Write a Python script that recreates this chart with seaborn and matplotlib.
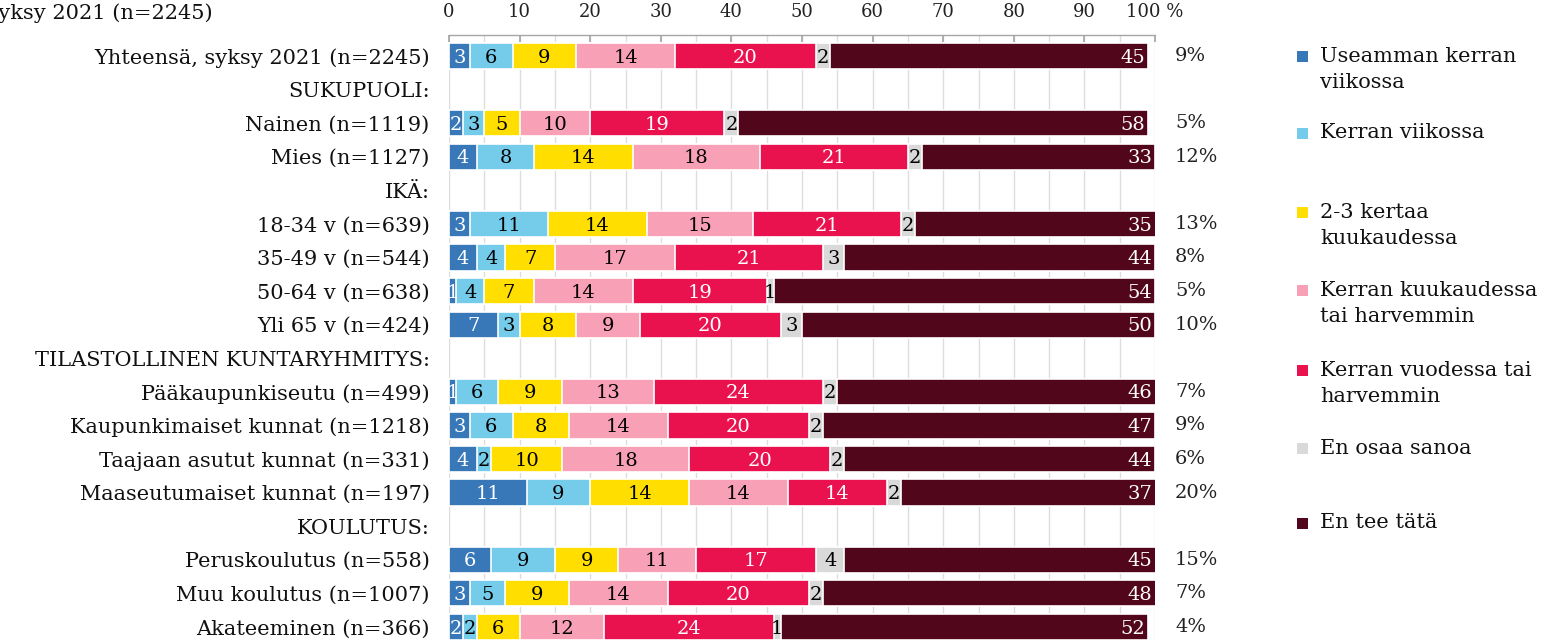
import matplotlib
matplotlib.use("Agg")
import matplotlib.pyplot as plt
from matplotlib.patches import Rectangle
from matplotlib.transforms import blended_transform_factory
import numpy as np
import pandas as pd
import seaborn as sns

# Row labels (group headers have no bars)
rows = [
    "Yhteensä, syksy 2021 (n=2245)", "SUKUPUOLI:", "Nainen (n=1119)", "Mies (n=1127)",
    "IKÄ:", "18-34 v (n=639)", "35-49 v (n=544)", "50-64 v (n=638)", "Yli 65 v (n=424)",
    "TILASTOLLINEN KUNTARYHMITYS:", "Pääkaupunkiseutu (n=499)", "Kaupunkimaiset kunnat (n=1218)",
    "Taajaan asutut kunnat (n=331)", "Maaseutumaiset kunnat (n=197)",
    "KOULUTUS:", "Peruskoulutus (n=558)", "Muu koulutus (n=1007)", "Akateeminen (n=366)",
]
bar_rows = [r for r in rows if not r.endswith(":")]

series_names = [
    "Useamman kerran\nviikossa",
    "Kerran viikossa",
    "2-3 kertaa\nkuukaudessa",
    "Kerran kuukaudessa\ntai harvemmin",
    "Kerran vuodessa tai\nharvemmin",
    "En osaa sanoa",
    "En tee tätä",
]
useamman_viikossa = [3, 2, 4, 3, 4, 1, 7, 1, 3, 4, 11, 6, 3, 2]
kerran_viikossa   = [6, 3, 8, 11, 4, 4, 3, 6, 6, 2, 9, 9, 5, 2]
kertaa_2_3_kk     = [9, 5, 14, 14, 7, 7, 8, 9, 8, 10, 14, 9, 9, 6]
kerran_kk         = [14, 10, 18, 15, 17, 14, 9, 13, 14, 18, 14, 11, 14, 12]
kerran_vuodessa   = [20, 19, 21, 21, 21, 19, 20, 24, 20, 20, 14, 17, 20, 24]
en_osaa_sanoa     = [2, 2, 2, 2, 3, 1, 3, 2, 2, 2, 2, 4, 2, 1]
en_tee_tata       = [45, 58, 33, 35, 44, 54, 50, 46, 47, 44, 37, 45, 48, 52]
weekly_share      = [9, 5, 12, 13, 8, 5, 10, 7, 9, 6, 20, 15, 7, 4]

series_values = [useamman_viikossa, kerran_viikossa, kertaa_2_3_kk, kerran_kk,
                 kerran_vuodessa, en_osaa_sanoa, en_tee_tata]
colors = ["#3878B8", "#74CBEA", "#FFDE00", "#F7A0B6", "#EA124E", "#D9D9D9", "#52061C"]
text_colors = ["white", "black", "black", "black", "white", "black", "white"]

sns.set_theme(style="white")
plt.rcParams["font.family"] = ["DejaVu Serif"]

fig = plt.figure(figsize=(15.58, 6.4), dpi=100)
ax = fig.add_axes([449 / 1558, 0.0, 706 / 1558, 1 - 35 / 640])

vals = np.array(series_values, dtype=float)
cum = np.cumsum(vals, axis=0)

# Stack by drawing cumulative totals from the widest down
for k in range(len(series_values) - 1, -1, -1):
    df = pd.DataFrame({"row": bar_rows, "value": cum[k]})
    sns.barplot(data=df, x="value", y="row", order=rows, color=colors[k],
                width=0.78, edgecolor="white", linewidth=1.2, saturation=1,
                errorbar=None, ax=ax, zorder=3)

ax.set_xlim(0, 100)
ax.set_ylim(len(rows) - 1 + 0.39, -0.625)
ax.set_xlabel("")
ax.set_ylabel("")

# Segment labels
ypos = {r: i for i, r in enumerate(rows)}
trans = blended_transform_factory(ax.transAxes, ax.transData)
for j, r in enumerate(bar_rows):
    y = ypos[r]
    for k in range(len(series_values)):
        v = vals[k, j]
        start = cum[k, j] - v
        if k == len(series_values) - 1:
            ax.text(min(cum[k, j], 100) - 0.4, y + 0.05, f"{int(v)}", ha="right",
                    va="center", color=text_colors[k], fontsize=14, zorder=5)
        else:
            ax.text(start + v / 2, y + 0.05, f"{int(v)}", ha="center", va="center",
                    color=text_colors[k], fontsize=14, zorder=5)
    ax.text((1175 - 449) / 706, y, f"{weekly_share[j]}%", transform=trans,
            ha="left", va="center", fontsize=14, color="#222222")

# Axis styling: scale on top, light vertical grid
ax.xaxis.tick_top()
ax.set_xticks(np.arange(0, 101, 10))
ax.set_xticklabels([str(t) for t in range(0, 100, 10)] + ["100 %"])
ax.set_xticks(np.arange(0, 101, 5), minor=True)
ax.tick_params(axis="x", which="major", direction="in", length=5, color="#A6A6A6",
               labelsize=13, pad=10, labelcolor="#222222", top=True, bottom=False)
ax.tick_params(axis="x", which="minor", length=0, top=False, bottom=False)
ax.grid(axis="x", which="both", color="#DDDDDD", linewidth=1, zorder=0)
ax.set_axisbelow(True)
ax.tick_params(axis="y", length=0, labelsize=15, pad=14, labelcolor="#111111")
for side in ["left", "right", "bottom"]:
    ax.spines[side].set_visible(False)
ax.spines["top"].set_color("#A6A6A6")
ax.spines["top"].set_linewidth(1)

# Heading at the top-left edge, running off the canvas
fig.text(213 / 1558, 1 - 13 / 640, "Yhteensä, syksy 2021 (n=2245)", ha="right",
         va="center", fontsize=15, color="#111111")

# Legend
legend_y = [56, 133, 212, 290, 370, 448, 523]
for name, c, yp in zip(series_names, colors, legend_y):
    fig.add_artist(Rectangle((1297 / 1558, 1 - (yp + 6) / 640), 11 / 1558, 11 / 640,
                             transform=fig.transFigure, facecolor=c, edgecolor="none"))
    for i, line in enumerate(name.split("\n")):
        fig.text(1320 / 1558, 1 - (yp + 27 * i) / 640, line, ha="left", va="center",
                 fontsize=15, color="#111111")

fig.savefig("out.png", dpi=100)
